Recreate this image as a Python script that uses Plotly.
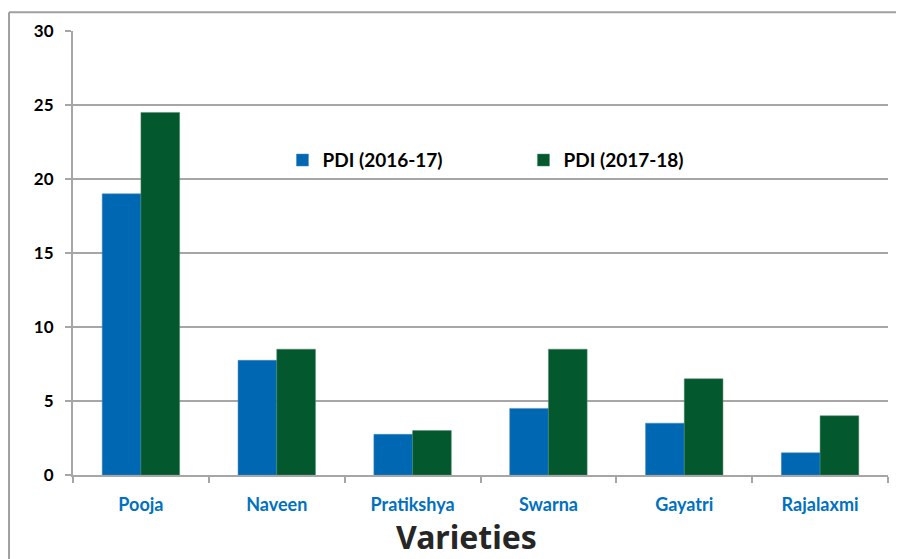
import plotly.graph_objects as go

varieties = ["Pooja", "Naveen", "Pratikshya", "Swarna", "Gayatri", "Rajalaxmi"]
pdi_2016 = [19.0, 7.75, 2.75, 4.5, 3.5, 1.5]
pdi_2017 = [24.5, 8.5, 3.0, 8.5, 6.5, 4.0]

font = "Lato, 'Open Sans', sans-serif"
grid = "#A6A6A6"

fig = go.Figure()
fig.add_trace(go.Bar(x=varieties, y=pdi_2016, name="PDI (2016-17)",
                     marker=dict(color="#0068B3", line=dict(color="#4A86B8", width=0.5))))
fig.add_trace(go.Bar(x=varieties, y=pdi_2017, name="PDI (2017-18)",
                     marker=dict(color="#03582E", line=dict(color="#4F8A6A", width=0.5))))

# page body adds an 8px offset, so size and margins are trimmed to compensate
fig.update_layout(
    width=896, height=551,
    margin=dict(l=65, r=16, t=20, b=84),
    paper_bgcolor="white", plot_bgcolor="white",
    barmode="group", bargap=0.43, bargroupgap=0,
    font=dict(family=font, color="black"),
    legend=dict(orientation="h", x=0.257, y=0.709, xanchor="left", yanchor="middle",
                entrywidth=196, entrywidthmode="pixels",
                font=dict(size=19, family=font, color="black", weight="bold"),
                bgcolor="rgba(0,0,0,0)"),
    xaxis=dict(
        tickfont=dict(size=18, color="#0070C0", weight="bold"),
        ticklabelstandoff=12,
        showline=True, linecolor=grid, linewidth=2,
        ticks="outside", tickson="boundaries", ticklen=6, tickcolor=grid, tickwidth=2,
        showgrid=False,
    ),
    yaxis=dict(
        range=[0, 30], dtick=5,
        tickfont=dict(size=17, color="black", weight="bold"),
        ticklabelstandoff=8,
        showline=True, linecolor=grid, linewidth=2,
        ticks="outside", ticklen=6, tickcolor=grid, tickwidth=2,
        showgrid=True, gridcolor=grid, gridwidth=2,
        zeroline=False,
    ),
    annotations=[
        dict(text="Varieties", xref="paper", yref="paper", x=0.483, y=-0.139,
             xanchor="center", yanchor="middle", showarrow=False,
             font=dict(size=32, color="#262626", family="'Noto Sans', sans-serif", weight="bold")),
    ],
    shapes=[
        dict(type="line", xref="paper", yref="paper", x0=-0.0785, x1=1.03, y0=1.0425, y1=1.0425,
             line=dict(color="#A0A0A0", width=2)),
        dict(type="line", xref="paper", yref="paper", x0=-0.0785, x1=-0.0785, y0=1.0425, y1=-0.2,
             line=dict(color="#A0A0A0", width=2)),
    ],
)

fig.write_html("out.html")
